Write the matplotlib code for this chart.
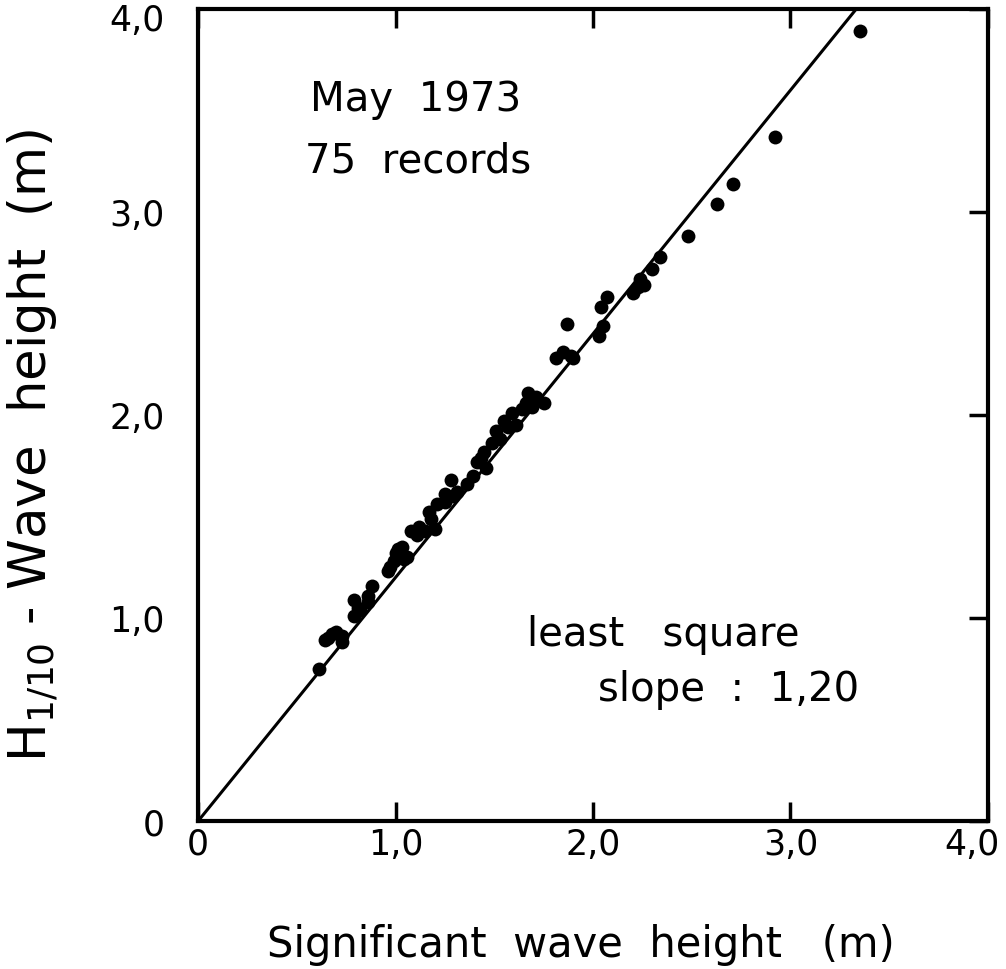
import matplotlib
matplotlib.use("Agg")
import matplotlib.pyplot as plt
import matplotlib.transforms as mtransforms
import numpy as np

# significant wave height (m) vs H1/10 (m), May 1973
hs = [0.61, 0.64, 0.66, 0.70, 0.73, 0.73, 0.79, 0.79, 0.81, 0.86,
      0.86, 0.88, 0.96, 0.99, 1.01, 1.03, 1.04, 1.02, 1.08, 1.11,
      1.15, 1.20, 1.17, 1.21, 1.25, 1.29, 1.28, 1.25, 1.36, 1.41,
      1.46, 1.45, 1.49, 1.51, 1.55, 1.59, 1.64, 1.66, 1.67, 1.75,
      1.81, 1.85, 1.89, 1.87, 2.03, 2.05, 2.04, 2.07, 2.20, 2.23,
      2.24, 2.30, 2.34, 2.48, 2.63, 2.71, 2.92, 3.35,
      0.82, 0.97, 1.06, 1.12, 1.31, 1.39, 1.53, 1.61, 1.69, 1.71,
      1.00, 1.18, 1.43, 1.57, 2.26, 1.90, 0.68]
h110 = [0.75, 0.89, 0.90, 0.93, 0.91, 0.88, 1.09, 1.01, 1.05, 1.08,
        1.11, 1.16, 1.23, 1.28, 1.34, 1.35, 1.29, 1.31, 1.43, 1.41,
        1.43, 1.44, 1.52, 1.56, 1.57, 1.60, 1.68, 1.61, 1.66, 1.77,
        1.74, 1.82, 1.86, 1.92, 1.97, 2.01, 2.03, 2.06, 2.11, 2.06,
        2.28, 2.31, 2.29, 2.45, 2.39, 2.44, 2.53, 2.58, 2.60, 2.63,
        2.67, 2.72, 2.78, 2.88, 3.04, 3.14, 3.37, 3.89,
        1.04, 1.25, 1.30, 1.45, 1.62, 1.70, 1.88, 1.95, 2.04, 2.09,
        1.32, 1.49, 1.79, 1.94, 2.64, 2.28, 0.92]
slope = 1.20

ticks = [0, 1, 2, 3, 4]
tick_labels = ["0", "1,0", "2,0", "3,0", "4,0"]

fig = plt.figure(figsize=(10.06, 9.70), dpi=100)
ax = fig.add_axes([0.197, 0.1526, 0.785, 0.8371])

ax.plot(hs, h110, "o", color="black", markersize=10, markeredgewidth=0)
xl = np.array([0, 4])
ax.plot(xl, slope * xl, color="black", lw=2.2)

ax.set_xlim(0, 4)
ax.set_ylim(0, 4)
ax.set_xticks(ticks)
ax.set_yticks(ticks)
ax.set_xticklabels(tick_labels, fontsize=25)
ax.set_yticklabels(tick_labels, fontsize=25)
ax.tick_params(direction="in", length=14, width=2.5, top=True, right=True, left=False)
ax.tick_params(axis="x", pad=4)
ax.tick_params(axis="y", pad=24)
for s in ax.spines.values():
    s.set_linewidth(3)

# nudge the end labels so they stay inside the picture
ax.get_yticklabels()[-1].set_transform(
    ax.get_yticklabels()[-1].get_transform() + mtransforms.ScaledTranslation(0, -8 / 100, fig.dpi_scale_trans))
ax.get_xticklabels()[-1].set_transform(
    ax.get_xticklabels()[-1].get_transform() + mtransforms.ScaledTranslation(-16 / 100, 0, fig.dpi_scale_trans))

ax.text(0.142, 0.889, "May  1973", transform=ax.transAxes, fontsize=29, va="center")
ax.text(0.135, 0.813, "75  records", transform=ax.transAxes, fontsize=29, va="center")
ax.text(0.416, 0.230, "least   square", transform=ax.transAxes, fontsize=29, va="center")
ax.text(0.506, 0.163, "slope  :  1,20", transform=ax.transAxes, fontsize=29, va="center")

fig.text(0.577, 0.026, "Significant  wave  height   (m)", fontsize=30, ha="center", va="center")
fig.text(0.032, 0.541, r"$\mathregular{H_{1/10}}$ - Wave  height  (m)", fontsize=37,
         rotation=90, ha="center", va="center")

fig.savefig("out.png", dpi=100)
